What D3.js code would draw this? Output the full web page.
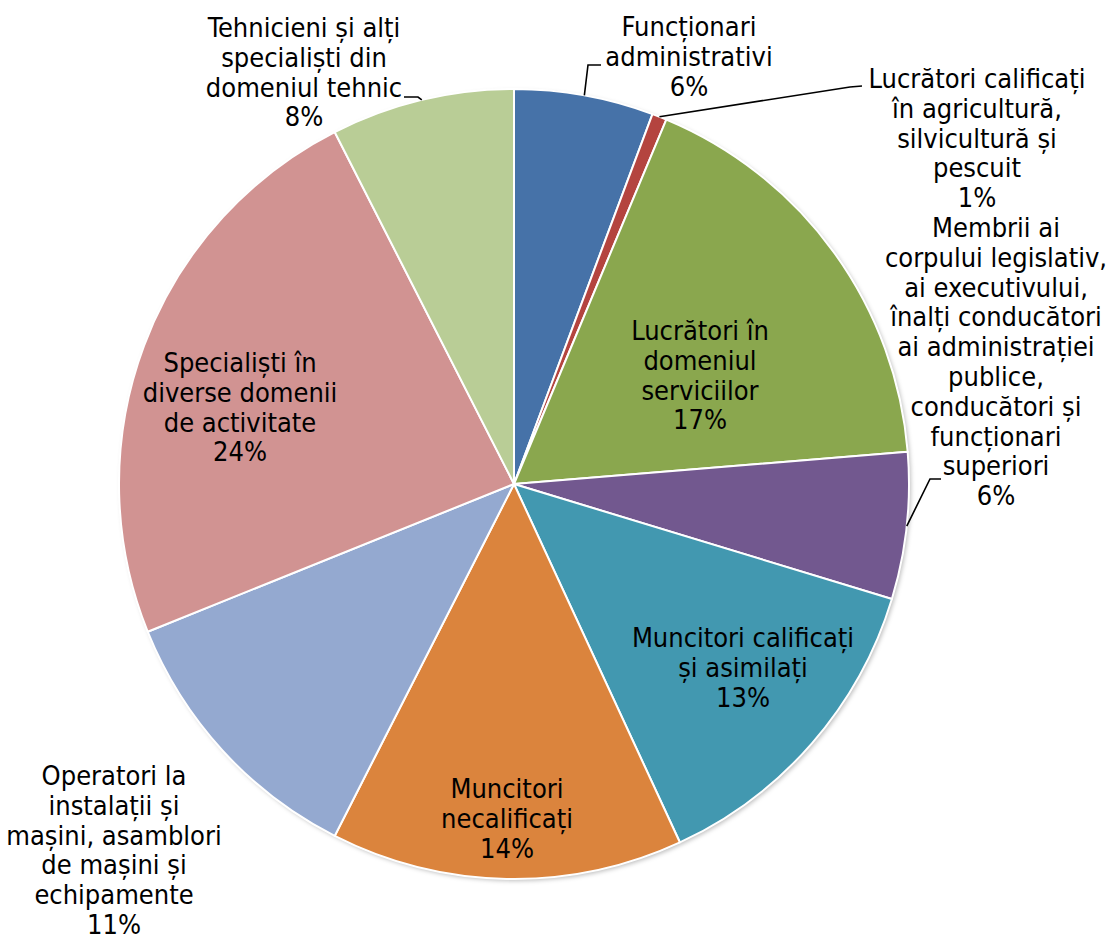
<!DOCTYPE html>
<html>
<head>
<meta charset="utf-8">
<script src="https://cdn.jsdelivr.net/npm/d3@7"></script>
<style>
  body { margin: 0; background: #fff; }
  svg text { font-family: "DejaVu Sans Condensed", "DejaVu Sans", sans-serif; font-size: 27px; fill: #000; }
</style>
</head>
<body>
<div id="chart"></div>
<script>
// categories, clockwise from 12 o'clock (each entry is the wrapped label)
var categories = [
  ["Funcționari", "administrativi"],
  ["Lucrători calificați", "în agricultură,", "silvicultură și", "pescuit"],
  ["Lucrători în", "domeniul", "serviciilor"],
  ["Membrii ai", "corpului legislativ,", "ai executivului,", "înalți conducători", "ai administrației", "publice,", "conducători și", "funcționari", "superiori"],
  ["Muncitori calificați", "și asimilați"],
  ["Muncitori", "necalificați"],
  ["Operatori la", "instalații și", "mașini, asamblori", "de mașini și", "echipamente"],
  ["Specialiști în", "diverse domenii", "de activitate"],
  ["Tehnicieni și alți", "specialiști din", "domeniul tehnic"]
];
// shares in percent
var values = [5.7, 0.6, 17.4, 6.0, 13.4, 14.4, 11.4, 23.6, 7.5];
var colors = ["#4672a8", "#b4443f", "#8aa74e", "#72588f", "#4298b0", "#db843d", "#94a9d0", "#d19392", "#b9cd96"];

// label placement (layout only): anchor x, first baseline y, leader elbow + end (null = inside)
var labelLayout = [
  { x: 689, y: 36,  leader: [[588, 65], [601, 65]] },
  { x: 977, y: 88,  leader: [[850, 87], [862, 86]] },
  { x: 700, y: 340, leader: null },
  { x: 996, y: 237, leader: [[930, 479], [941, 479]] },
  { x: 743, y: 647, leader: null },
  { x: 507, y: 798, leader: null },
  { x: 114, y: 785, leader: null },
  { x: 240, y: 372, leader: null },
  { x: 304, y: 37,  leader: [[418, 97], [404, 97]] }
];

var W = 1109, H = 940;
var cx = 514, cy = 484, R = 395;
var lineH = 29.8;

var svg = d3.select("#chart").append("svg")
    .attr("width", W)
    .attr("height", H);

var defs = svg.append("defs");
var shadow = defs.append("filter").attr("id", "shadow")
    .attr("x", "-10%").attr("y", "-10%").attr("width", "120%").attr("height", "120%");
shadow.append("feDropShadow")
    .attr("dx", 2).attr("dy", 2).attr("stdDeviation", 2)
    .attr("flood-color", "#000").attr("flood-opacity", 0.25);

var total = d3.sum(values);
var pie = d3.pie().sort(null).value(d => d);
var arcs = pie(values);
var arc = d3.arc().innerRadius(0).outerRadius(R);

var g = svg.append("g").attr("transform", "translate(" + cx + "," + cy + ")");

g.append("circle").attr("r", R).attr("fill", "#fff").attr("filter", "url(#shadow)");

g.selectAll("path.slice")
  .data(arcs)
  .enter().append("path")
    .attr("class", "slice")
    .attr("d", arc)
    .attr("fill", (d, i) => colors[i])
    .attr("stroke", "#fff")
    .attr("stroke-width", 2)
    .attr("stroke-linejoin", "round");

// leader lines, starting on the rim at the slice's mid angle
arcs.forEach(function (d, i) {
  var lay = labelLayout[i];
  if (!lay.leader) return;
  var a = (d.startAngle + d.endAngle) / 2;
  var start = [cx + R * Math.sin(a), cy - R * Math.cos(a)];
  svg.append("polyline")
    .attr("points", [start].concat(lay.leader).map(p => p.join(",")).join(" "))
    .attr("fill", "none")
    .attr("stroke", "#000")
    .attr("stroke-width", 1.6);
});

var fmt = v => Math.round(v / total * 100) + "%";

categories.forEach(function (lines, i) {
  var lay = labelLayout[i];
  var t = svg.append("text")
    .attr("text-anchor", "middle")
    .attr("x", lay.x)
    .attr("y", lay.y);
  lines.concat([fmt(values[i])]).forEach(function (s, j) {
    t.append("tspan")
      .attr("x", lay.x)
      .attr("dy", j === 0 ? 0 : lineH)
      .text(s);
  });
});
</script>
</body>
</html>
